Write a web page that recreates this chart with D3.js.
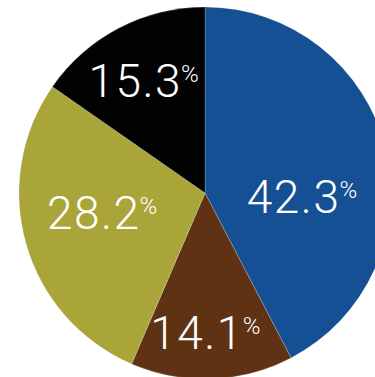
<!DOCTYPE html>
<html>
<head>
<meta charset="utf-8">
<script src="https://cdn.jsdelivr.net/npm/d3@7"></script>
<style>
  html, body { margin: 0; padding: 0; background: #fff; overflow: hidden; }
  svg { display: block; }
  text { font-family: Roboto, "Open Sans", sans-serif; font-weight: 300; fill: #fff; }
</style>
</head>
<body>
<svg id="chart" width="375" height="377"></svg>
<script>
// Share of each segment, in percent, clockwise from twelve o'clock
const segments = ["A", "B", "C", "D"];
const shares = [42.3, 14.1, 28.2, 15.3];
const valueLabels = ["42.3", "14.1", "28.2", "15.3"];

const colors = ["#145093", "#5e3213", "#a9a538", "#020202"];

const width = 375, height = 377;
const cx = 205, cy = 193, radius = 186;

// Per-slice label nudges (px) relative to the label-arc centroid
const labelNudge = [[-15, 31], [-4, 25], [8, -12], [-8, -10]];

const svg = d3.select("#chart");
const g = svg.append("g").attr("transform", `translate(${cx},${cy})`);

const data = segments.map((s, i) => ({ key: s, value: shares[i], label: valueLabels[i], i }));

const pie = d3.pie()
  .value(d => d.value)
  .sort(null)
  .startAngle(0)
  .endAngle(2 * Math.PI);

const arc = d3.arc().innerRadius(0).outerRadius(radius);
const labelArc = d3.arc().innerRadius(radius * 0.62).outerRadius(radius * 0.62);

const arcs = pie(data);

g.selectAll("path.slice")
  .data(arcs)
  .join("path")
  .attr("class", "slice")
  .attr("d", arc)
  .attr("fill", d => colors[d.data.i])
  .attr("stroke", "#ffffff")
  .attr("stroke-opacity", 0.35)
  .attr("stroke-width", 0.6);

const labels = g.selectAll("text.val")
  .data(arcs)
  .join("text")
  .attr("class", "val")
  .attr("text-anchor", "middle")
  .attr("transform", d => {
    const [x, y] = labelArc.centroid(d);
    const [nx, ny] = labelNudge[d.data.i];
    return `translate(${x + nx},${y + ny + 16})`;
  });

labels.append("tspan")
  .attr("font-size", 46)
  .attr("letter-spacing", 1.5)
  .text(d => d.data.label);

labels.append("tspan")
  .attr("font-size", 24)
  .attr("dx", -1)
  .attr("dy", -15)
  .text("%");
</script>
</body>
</html>
